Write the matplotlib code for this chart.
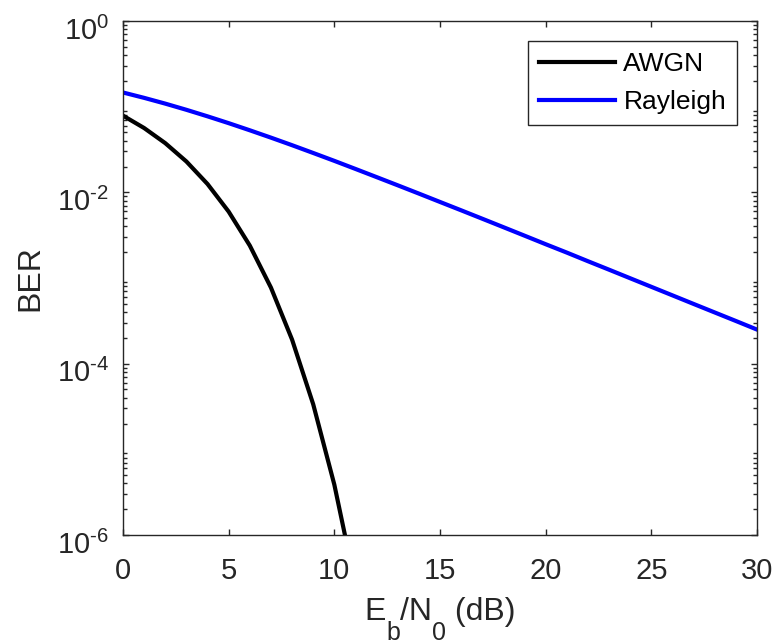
import matplotlib
matplotlib.use("Agg")
import matplotlib.pyplot as plt
from matplotlib.ticker import LogLocator, FixedLocator, FixedFormatter, NullFormatter
from matplotlib.transforms import IdentityTransform, ScaledTranslation

# Eb/N0 in dB
snr_awgn = [0, 1, 2, 3, 4, 5, 6, 7, 8, 9, 10, 11]
ber_awgn = [0.0786, 0.0563, 0.0375, 0.0229, 0.0125, 0.00595, 0.00239,
            0.000773, 0.000191, 3.36e-5, 3.87e-6, 2.61e-7]

snr_ray = list(range(0, 31))
ber_ray = [0.1464, 0.1267, 0.1085, 0.0919, 0.0771, 0.0642, 0.0530, 0.0435,
           0.0355, 0.0288, 0.0233, 0.01875, 0.01506, 0.01208, 0.00967,
           0.00772, 0.00617, 0.00492, 0.00392, 0.00312, 0.00248, 0.00198,
           0.00157, 0.00125, 0.000993, 0.000789, 0.000627, 0.000498,
           0.000396, 0.000315, 0.00025]

xticks = [0, 5, 10, 15, 20, 25, 30]
yticks = [1e-6, 1e-4, 1e-2, 1e0]
# short hyphen in the exponent, like the original
ytick_labels = ['$\\mathregular{10^{\u20106}}$', '$\\mathregular{10^{\u20104}}$',
                '$\\mathregular{10^{\u20102}}$', '$\\mathregular{10^{0}}$']

plt.rcParams['font.family'] = ['Liberation Sans', 'DejaVu Sans']
plt.rcParams['axes.unicode_minus'] = False
gray = '#262626'

fig = plt.figure(figsize=(7.77, 6.44), dpi=100)
ax = fig.add_axes([123/777, 1 - 535/644, (757-123)/777, (535-21)/644])

ax.semilogy(snr_awgn, ber_awgn, color='black', lw=3, label='AWGN')
ax.semilogy(snr_ray, ber_ray, color='#0000ff', lw=3, label='Rayleigh')

ax.set_xlim(0, 30)
ax.set_ylim(1e-6, 1)
ax.xaxis.set_major_locator(FixedLocator(xticks))
ax.yaxis.set_major_locator(FixedLocator(yticks))
ax.yaxis.set_major_formatter(FixedFormatter(ytick_labels))
ax.yaxis.set_minor_locator(LogLocator(base=10, subs=range(2, 10), numticks=20))
ax.yaxis.set_minor_formatter(NullFormatter())

ax.tick_params(which='both', direction='in', top=True, right=True,
               colors=gray, labelsize=21)
ax.tick_params(axis='x', pad=16)
ax.tick_params(axis='y', pad=10)
ax.tick_params(which='major', length=4.5, width=1)
ax.tick_params(which='minor', length=3, width=1)
for s in ax.spines.values():
    s.set_color(gray)
    s.set_linewidth(1)

# y tick labels sit a bit lower in the original
for lab in ax.get_yticklabels():
    lab.set_transform(lab.get_transform() + ScaledTranslation(0, -7/100, fig.dpi_scale_trans))

ax.set_ylabel('BER', fontsize=23, color=gray, labelpad=8.5)

leg = ax.legend(loc='upper right', fontsize=19, fancybox=False, framealpha=1,
                edgecolor=gray, handlelength=2.9, handletextpad=0.3,
                labelspacing=0.53, borderpad=0.42, borderaxespad=0.75)
leg.get_frame().set_linewidth(1)

# x label with big MATLAB-like subscripts, built piece by piece
r = fig.canvas.get_renderer()
pieces = [("E", 23, 0), ("b", 18, -20), ("/N", 23, 0), ("0", 18, -20), (" (dB)", 23, 0)]
texts = []
total = 0
for s, fs, dy in pieces:
    t = fig.text(0, 0, s, fontsize=fs, color=gray, va='baseline', ha='left',
                 transform=IdentityTransform())
    w = t.get_window_extent(r).width
    texts.append((t, w, dy))
    total += w
x = 440 - total / 2
base = 644 - 620
for t, w, dy in texts:
    t.set_position((x, base + dy))
    x += w

fig.savefig('out.png', dpi=100)
